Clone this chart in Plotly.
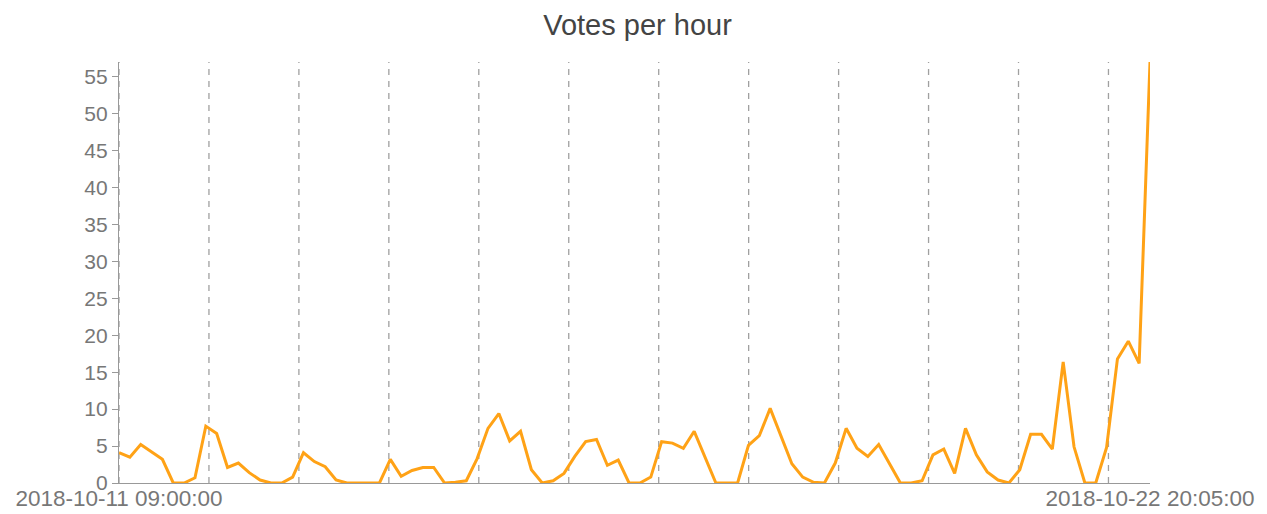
import pandas as pd
import plotly.graph_objects as go

start_time = "2018-10-11 09:00:00"
end_time = "2018-10-22 20:05:00"
votes = [4.1, 3.5, 5.2, 4.2, 3.2, 0, 0, 0.7, 7.7, 6.7,
         2.1, 2.7, 1.4, 0.4, 0, 0, 0.8, 4.1, 2.9, 2.2,
         0.4, 0, 0, 0, 0, 3.2, 0.9, 1.7, 2.1, 2.1,
         0, 0.1, 0.3, 3.3, 7.4, 9.4, 5.7, 7.0, 1.8, 0,
         0.3, 1.3, 3.6, 5.6, 5.9, 2.4, 3.1, 0, 0, 0.8,
         5.6, 5.4, 4.7, 7.0, 3.5, 0, 0, 0, 5.1, 6.4,
         10.1, 6.4, 2.6, 0.8, 0.1, 0, 2.7, 7.4, 4.7, 3.6,
         5.2, 2.6, 0, 0, 0.3, 3.8, 4.6, 1.3, 7.4, 3.8,
         1.5, 0.4, 0, 1.8, 6.6, 6.6, 4.6, 16.4, 4.9, 0,
         0, 4.8, 16.8, 19.2, 16.2, 57]
y_ticks = [0, 5, 10, 15, 20, 25, 30, 35, 40, 45, 50, 55]
day_lines = pd.date_range("2018-10-11 09:00:00", "2018-10-22 09:00:00", freq="D")

times = pd.date_range(start_time, end_time, periods=len(votes))

fig = go.Figure()
fig.add_trace(go.Scatter(x=times, y=votes, mode="lines",
                         line=dict(color="#FFA216", width=3),
                         hoverinfo="x+y", showlegend=False))

for d in day_lines:
    fig.add_shape(type="line", xref="x", yref="paper", x0=d, x1=d, y0=0, y1=1,
                  line=dict(color="#A0A0A0", width=1.3, dash="6px,6px"), layer="below")

fig.update_layout(
    width=1259, height=506,
    margin=dict(l=111, r=117, t=54, b=31),
    paper_bgcolor="white", plot_bgcolor="white",
    font=dict(family="Liberation Sans, Arial, sans-serif", size=21, color="#777777"),
    title=dict(text="Votes per hour", x=0.5, xanchor="center",
               yref="container", y=0.966, yanchor="middle",
               font=dict(size=29, color="#444444")),
    xaxis=dict(type="date", range=[start_time, end_time], automargin=False,
               tickvals=[start_time, end_time], ticktext=[start_time, end_time],
               showgrid=False, zeroline=False, showline=True, linecolor="#999999",
               linewidth=1.3, ticks="", ticklabelstandoff=-5,
               tickfont=dict(size=22.5, color="#777777")),
    yaxis=dict(range=[0, 57], tickvals=y_ticks, showgrid=False, zeroline=False,
               automargin=False, showline=True, linecolor="#999999", linewidth=1.3,
               ticks="outside", ticklen=6, tickcolor="#999999",
               tickfont=dict(size=21, color="#777777")),
)

fig.write_html("out.html")
